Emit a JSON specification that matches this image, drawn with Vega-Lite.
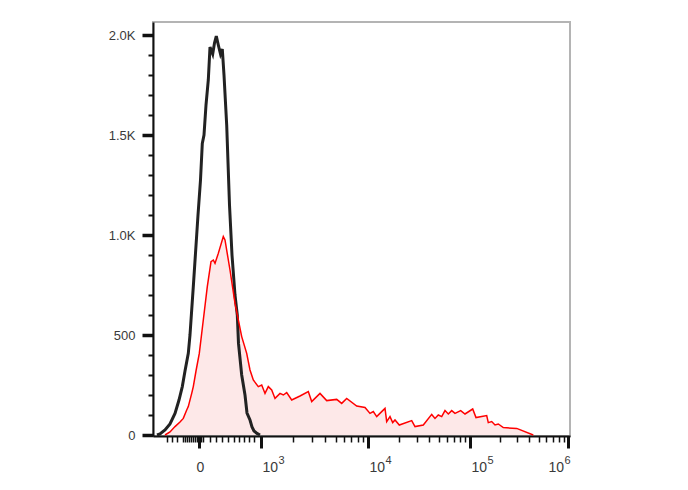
{
  "$schema": "https://vega.github.io/schema/vega-lite/v6.json",
  "width": 417,
  "height": 414,
  "autosize": "none",
  "padding": {"left": 153, "top": 22, "right": 118, "bottom": 54},
  "background": "white",
  "config": {
    "view": {"stroke": "#b4b4b4", "strokeWidth": 2},
    "axis": {"labelFont": "Liberation Sans", "labelColor": "#3a3a3a", "domainColor": "#111", "domainWidth": 2, "tickColor": "#111", "grid": false, "title": null, "labelOverlap": false, "labelFlush": false}
  },
  "datasets": {
    "control": [
      {"pos": -42, "count": 0}, {"pos": -39, "count": 5}, {"pos": -34, "count": 25}, {"pos": -29, "count": 55},
      {"pos": -24, "count": 108}, {"pos": -20, "count": 175}, {"pos": -16.7, "count": 242}, {"pos": -14, "count": 320},
      {"pos": -10.7, "count": 408}, {"pos": -9, "count": 500}, {"pos": -5.7, "count": 742}, {"pos": -2.3, "count": 1000},
      {"pos": -1, "count": 1100}, {"pos": 1.5, "count": 1275}, {"pos": 3.3, "count": 1458}, {"pos": 5, "count": 1500},
      {"pos": 7, "count": 1650}, {"pos": 9.3, "count": 1775}, {"pos": 11, "count": 1940}, {"pos": 13.7, "count": 1905},
      {"pos": 15.5, "count": 1960}, {"pos": 17.3, "count": 1995}, {"pos": 19.3, "count": 1950}, {"pos": 21.5, "count": 1905},
      {"pos": 23.3, "count": 1930}, {"pos": 25, "count": 1800}, {"pos": 27.7, "count": 1550}, {"pos": 30.5, "count": 1150},
      {"pos": 33, "count": 900}, {"pos": 36, "count": 700}, {"pos": 38.3, "count": 600}, {"pos": 39.5, "count": 458},
      {"pos": 42.7, "count": 300}, {"pos": 46, "count": 200}, {"pos": 48, "count": 110}, {"pos": 51, "count": 75},
      {"pos": 53, "count": 40}, {"pos": 55, "count": 20}, {"pos": 58, "count": 8}, {"pos": 61, "count": 0}
    ],
    "stained": [
      {"pos": -34, "count": 0}, {"pos": -29, "count": 15}, {"pos": -24, "count": 42}, {"pos": -19, "count": 65},
      {"pos": -15.7, "count": 83}, {"pos": -12.3, "count": 125}, {"pos": -10.7, "count": 142}, {"pos": -7.3, "count": 208},
      {"pos": -5.7, "count": 242}, {"pos": -3, "count": 320}, {"pos": 0.3, "count": 408}, {"pos": 4.3, "count": 575},
      {"pos": 8.3, "count": 742}, {"pos": 12, "count": 867}, {"pos": 14.3, "count": 875}, {"pos": 16, "count": 858},
      {"pos": 19.3, "count": 908}, {"pos": 24.3, "count": 992}, {"pos": 26, "count": 975}, {"pos": 31, "count": 825},
      {"pos": 36, "count": 658}, {"pos": 42.7, "count": 492}, {"pos": 47.7, "count": 408}, {"pos": 51, "count": 325},
      {"pos": 54.3, "count": 275}, {"pos": 59.3, "count": 242}, {"pos": 62.7, "count": 250}, {"pos": 66, "count": 208},
      {"pos": 69.3, "count": 242}, {"pos": 72.7, "count": 225}, {"pos": 76, "count": 183}, {"pos": 81, "count": 208},
      {"pos": 84.3, "count": 200}, {"pos": 87.7, "count": 212}, {"pos": 92.7, "count": 175}, {"pos": 101, "count": 195},
      {"pos": 109.3, "count": 217}, {"pos": 112.7, "count": 167}, {"pos": 121, "count": 208}, {"pos": 127.7, "count": 172},
      {"pos": 137.7, "count": 178}, {"pos": 142.7, "count": 158}, {"pos": 147.7, "count": 183}, {"pos": 157.7, "count": 145},
      {"pos": 166, "count": 138}, {"pos": 171, "count": 108}, {"pos": 174.3, "count": 117}, {"pos": 177.7, "count": 92},
      {"pos": 182.7, "count": 117}, {"pos": 186, "count": 133}, {"pos": 187.7, "count": 67}, {"pos": 191, "count": 92},
      {"pos": 193.7, "count": 62}, {"pos": 196, "count": 75}, {"pos": 200.3, "count": 50}, {"pos": 212.7, "count": 72},
      {"pos": 216, "count": 42}, {"pos": 224.3, "count": 50}, {"pos": 232.7, "count": 103}, {"pos": 236, "count": 83},
      {"pos": 239.3, "count": 100}, {"pos": 242.7, "count": 92}, {"pos": 246, "count": 122}, {"pos": 249.3, "count": 105},
      {"pos": 252.7, "count": 122}, {"pos": 256, "count": 108}, {"pos": 261.7, "count": 122}, {"pos": 266, "count": 105},
      {"pos": 273.7, "count": 130}, {"pos": 277, "count": 87}, {"pos": 287.7, "count": 97}, {"pos": 289.3, "count": 62},
      {"pos": 292.7, "count": 67}, {"pos": 296, "count": 50}, {"pos": 299.3, "count": 55}, {"pos": 304.3, "count": 37},
      {"pos": 317.7, "count": 33}, {"pos": 334.3, "count": 0}
    ]
  },
  "resolve": {"axis": {"x": "independent"}},
  "encoding": {
    "y": {
      "field": "count", "type": "quantitative",
      "scale": {"domain": [-5, 2065], "nice": false, "zero": false},
      "axis": {
        "values": [0, 100, 200, 300, 400, 500, 600, 700, 800, 900, 1000, 1100, 1200, 1300, 1400, 1500, 1600, 1700, 1800, 1900, 2000],
        "labelExpr": "datum.value == 0 ? '0' : datum.value == 500 ? '500' : datum.value == 1000 ? '1.0K' : datum.value == 1500 ? '1.5K' : datum.value == 2000 ? '2.0K' : ''",
        "labelFontSize": 13,
        "labelPadding": 7,
        "labelOverlap": false,
        "labelFlush": false,
        "tickSize": {"condition": {"test": "datum.value % 500 == 0", "value": 11}, "value": 5},
        "tickWidth": {"condition": {"test": "datum.value % 500 == 0", "value": 3.5}, "value": 2}
      }
    }
  },
  "layer": [
    {
      "data": {"name": "stained"},
      "mark": {"type": "area", "color": "#fde8e8", "interpolate": "linear"},
      "encoding": {
        "x": {
          "field": "pos", "type": "quantitative",
          "scale": {"domain": [-46, 371], "nice": false, "zero": false},
          "axis": {
            "orient": "bottom",
            "values": [-32, -27, -22, -16, -14, -12, -10, -8, -6, -4, -2, 0, 2, 4, 11, 17, 23, 29, 35, 40, 45, 50, 55, 62, 94, 113, 126.4, 136.8, 145.3, 152.4, 158.6, 164.1, 169, 199.7, 217.7, 230.4, 240.3, 248.4, 255.2, 261.1, 266.3, 271, 300.5, 317.8, 330, 339.5, 347.3, 353.8, 359.5, 364.5, 369],
            "labelExpr": "datum.value == 0 ? '0' : indexof([62, 169, 271, 369], datum.value) >= 0 ? '10' : ''",
            "labelFontSize": 14,
            "labelPadding": 12,
            "labelBound": false,
            "labelAlign": {"condition": {"test": "datum.value == 0", "value": "center"}, "value": "left"},
            "labelOffset": {"condition": {"test": "datum.value == 369", "value": -20}, "value": 1},
            "tickSize": {"condition": {"test": "indexof([0, 62, 169, 271, 369], datum.value) >= 0", "value": 12}, "value": 6},
            "tickWidth": {"condition": {"test": "indexof([0, 62, 169, 271, 369], datum.value) >= 0", "value": 3}, "value": 1.5}
          }
        }
      }
    },
    {
      "data": {"name": "control"},
      "mark": {"type": "line", "color": "#222222", "strokeWidth": 3, "interpolate": "linear"},
      "encoding": {
        "x": {"field": "pos", "type": "quantitative", "axis": null}
      }
    },
    {
      "data": {"name": "stained"},
      "mark": {"type": "line", "color": "#ff0000", "strokeWidth": 1.5, "interpolate": "linear"},
      "encoding": {
        "x": {
          "field": "pos", "type": "quantitative",
          "axis": {
            "orient": "bottom",
            "values": [62, 169, 271, 369],
            "labelExpr": "datum.value == 62 ? '3' : datum.value == 169 ? '4' : datum.value == 271 ? '5' : '6'",
            "labelFontSize": 11,
            "labelPadding": 6,
            "labelAlign": "left",
            "labelOffset": {"condition": {"test": "datum.value == 369", "value": -4}, "value": 17},
            "labelBound": false,
            "domain": false,
            "ticks": true,
            "tickSize": 12,
            "tickOpacity": 0
          }
        }
      }
    }
  ]
}
